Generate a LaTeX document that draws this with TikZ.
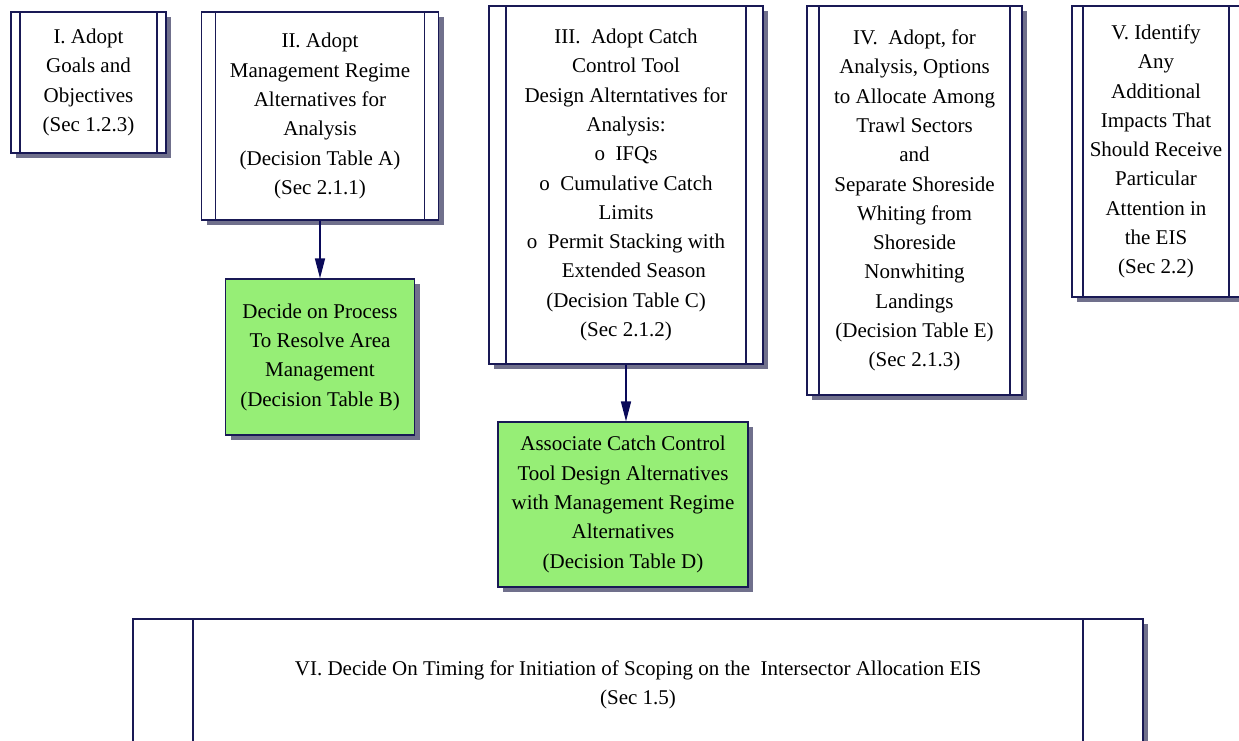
\documentclass[tikz,border=0pt]{standalone}
\usepackage{fontspec}
\setmainfont{Liberation Serif}
\usepackage{xcolor}
\usetikzlibrary{shapes,arrows.meta,calc,shadows}
\definecolor{boxline}{RGB}{25,25,85}
\definecolor{boxgreen}{RGB}{150,238,118}
\definecolor{boxshadow}{RGB}{112,112,140}
\definecolor{arrownavy}{RGB}{10,10,90}

\begin{document}
\begin{tikzpicture}[x=1pt,y=-1pt,
		boxfont/.style={font=\fontsize{21}{29.3}\selectfont},
		procbox/.style={draw=boxline, line width=1.2pt, fill=white, inner sep=0pt, align=center, boxfont,
			drop shadow={shadow xshift=5pt, shadow yshift=-5pt, fill=boxshadow, opacity=1},
			path picture={
				\draw[boxline, line width=1.2pt] ([xshift=#1]path picture bounding box.north west) -- ([xshift=#1]path picture bounding box.south west);
				\draw[boxline, line width=1.2pt] ([xshift=-#1]path picture bounding box.north east) -- ([xshift=-#1]path picture bounding box.south east);
			}},
		greenbox/.style={draw=boxline, line width=1.2pt, fill=boxgreen, inner sep=0pt, align=center, boxfont,
			drop shadow={shadow xshift=5pt, shadow yshift=-5pt, fill=boxshadow, opacity=1}},
		flowarrow/.style={draw=arrownavy, line width=1.6pt, -{Triangle[width=10pt,length=20pt]}}]
	\useasboundingbox (0,0) rectangle (1239,740);
	
	% Draw the goal boxes along the top
	\node[procbox=9pt, minimum width=155pt, minimum height=141pt] (goalone) at (88.5,82.5) {I. Adopt\\Goals and\\Objectives\\(Sec 1.2.3)};
	\node[procbox=14pt, minimum width=237pt, minimum height=208pt] (goaltwo) at (320,116) {II. Adopt\\Management Regime\\Alternatives for\\Analysis\\(Decision Table A)\\(Sec 2.1.1)};
	\node[procbox=17pt, minimum width=274pt, minimum height=358pt] (goalthree) at (626,185) {III.\ \ Adopt Catch\\Control Tool\\Design Alterntatives for\\Analysis:\\o\ \ IFQs\\o\ \ Cumulative Catch\\Limits\\o\ \ Permit Stacking with\\\ \ \ Extended Season\\(Decision Table C)\\(Sec 2.1.2)};
	\node[procbox=12pt, minimum width=215pt, minimum height=389pt] (goalfour) at (914.5,200.5) {IV.\ \ Adopt, for\\Analysis, Options\\to Allocate Among\\Trawl Sectors\\and\\Separate Shoreside\\Whiting from\\Shoreside\\Nonwhiting\\Landings\\(Decision Table E)\\(Sec 2.1.3)};
	\node[procbox=11pt, minimum width=168pt, minimum height=291pt] (goalfive) at (1156,151.5) {V. Identify\\Any\\Additional\\Impacts That\\Should Receive\\Particular\\Attention in\\the EIS\\(Sec 2.2)};
	
	% Draw the decision boxes
	\node[greenbox, minimum width=189pt, minimum height=156pt] (areamgmt) at (320,357) {Decide on Process\\To Resolve Area\\Management\\(Decision Table B)};
	\node[greenbox, minimum width=250pt, minimum height=165pt] (associate) at (623,504.5) {Associate Catch Control\\Tool Design Alternatives\\with Management Regime\\Alternatives\\(Decision Table D)};
	
	% Draw the timing box at the bottom
	\node[procbox=60pt, minimum width=1010pt, minimum height=132pt] (timing) at (638,685) {VI. Decide On Timing for Initiation of Scoping on the\ \ Intersector Allocation EIS\\(Sec 1.5)};
	
	% Draw connections
	\draw[flowarrow] (goaltwo) -- (areamgmt);
	\draw[flowarrow] (goalthree.south) -- (goalthree.south |- associate.north);
\end{tikzpicture}
\end{document}
